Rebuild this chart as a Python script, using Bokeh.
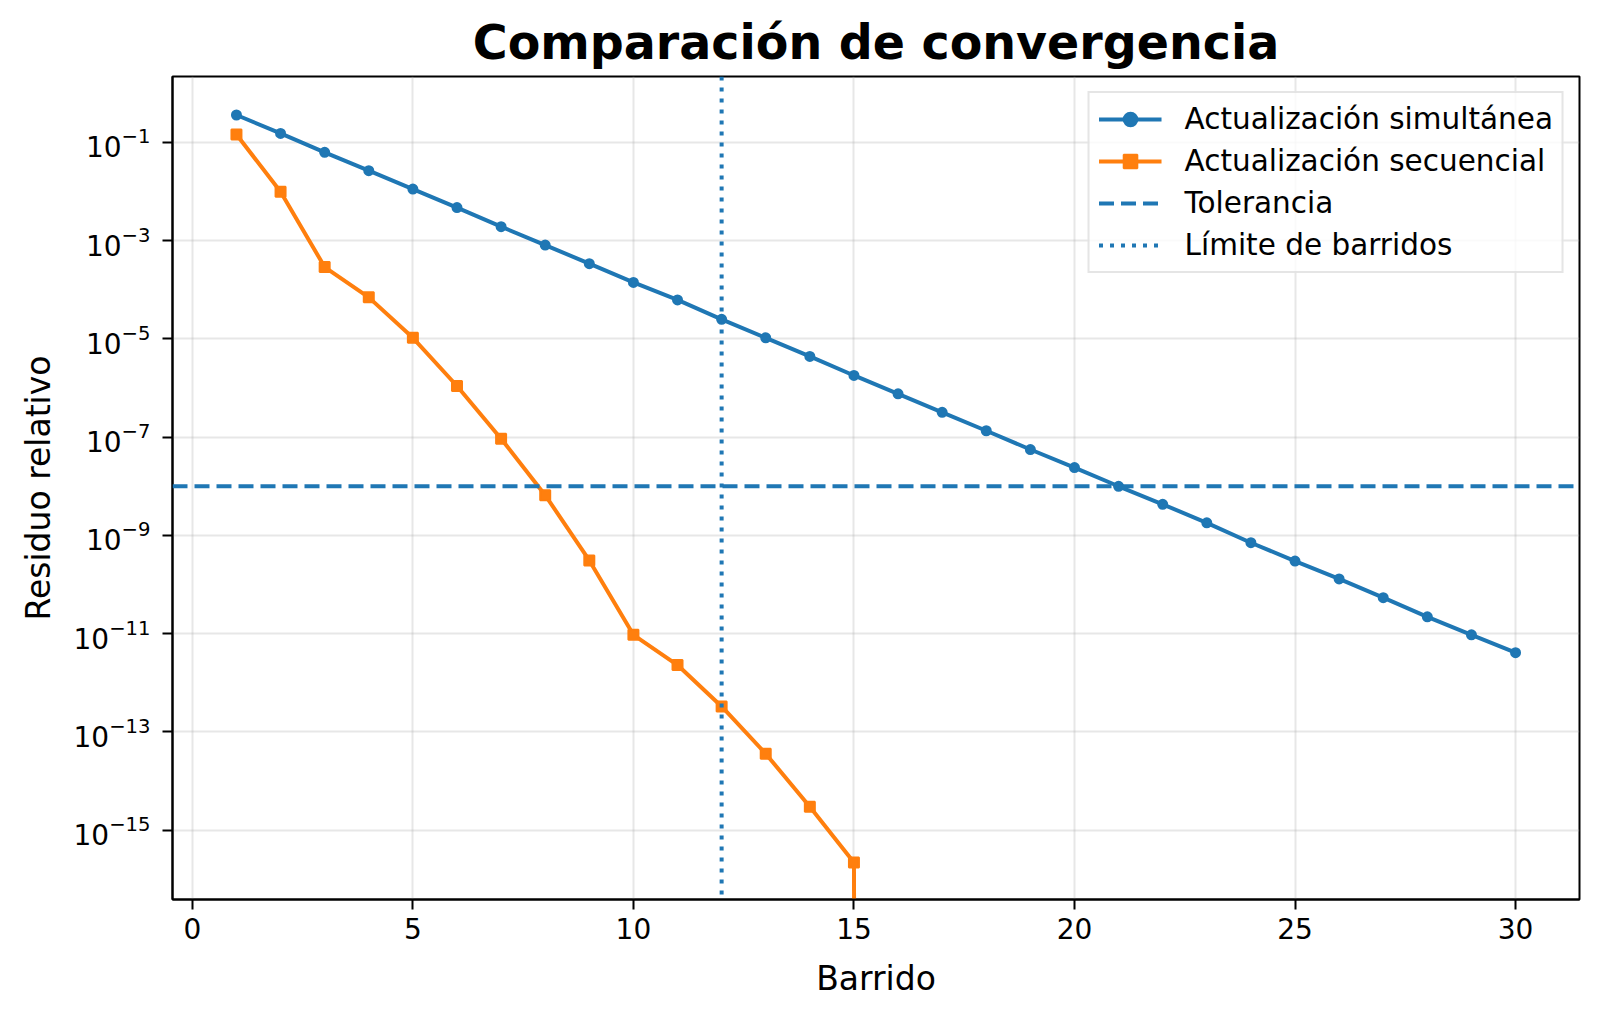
from bokeh.plotting import figure
from bokeh.models import (ColumnDataSource, FixedTicker, Legend, LegendItem,
                          Range1d, Span)
from bokeh.embed import file_html
from bokeh.resources import INLINE


# sweep number vs. relative residual
sweeps_sim = [1, 2, 3, 4, 5, 6, 7, 8, 9, 10, 11, 12, 13, 14, 15,
              16, 17, 18, 19, 20, 21, 22, 23, 24, 25, 26, 27, 28, 29, 30]
residual_sim = [0.36, 0.152, 0.0625, 0.0265, 0.0112, 4.7e-3, 1.92e-3, 8.1e-4,
                3.4e-4, 1.41e-4, 6.2e-5, 2.5e-5, 1.05e-5, 4.4e-6, 1.8e-6,
                7.6e-7, 3.2e-7, 1.35e-7, 5.6e-8, 2.4e-8, 1.0e-8, 4.3e-9,
                1.8e-9, 7.1e-10, 3.0e-10, 1.3e-10, 5.4e-11, 2.2e-11,
                9.5e-12, 4.1e-12]

sweeps_seq = [1, 2, 3, 4, 5, 6, 7, 8, 9, 10, 11, 12, 13, 14, 15, 16]
residual_seq = [0.144, 9.9e-3, 2.9e-4, 7.0e-5, 1.05e-5, 1.1e-6, 9.3e-8,
                6.6e-9, 3.1e-10, 9.5e-12, 2.3e-12, 3.3e-13, 3.6e-14, 3.0e-15,
                2.2e-16, 0.0]

tolerance = 1e-8
sweep_limit = 12

x_ticks = [0, 5, 10, 15, 20, 25, 30]
y_ticks = [1e-1, 1e-3, 1e-5, 1e-7, 1e-9, 1e-11, 1e-13, 1e-15]

FONT = "DejaVu Sans"
BLUE = "#1f77b4"
ORANGE = "#ff7f0e"
NAN = float("nan")


def convergence_plot():
    p = figure(width=1592, height=1009,
               x_range=Range1d(-0.45, 31.45),
               y_range=Range1d(10 ** -16.41, 10 ** 0.34),
               y_axis_type="log",
               title="Comparación de convergencia",
               x_axis_label="Barrido",
               y_axis_label="Residuo relativo",
               output_backend="svg",
               toolbar_location=None,
               min_border_left=172, min_border_right=13,
               min_border_top=76, min_border_bottom=110)

    p.title.text_font = FONT
    p.title.text_font_size = "47.5px"
    p.title.text_font_style = "bold"
    p.title.text_color = "black"
    p.title.align = "center"
    p.title.standoff = 14

    p.outline_line_color = "black"
    p.outline_line_width = 2

    xt = FixedTicker(ticks=x_ticks, minor_ticks=[])
    yt = FixedTicker(ticks=y_ticks, minor_ticks=[])
    p.xaxis.ticker = xt
    p.yaxis.ticker = yt
    p.xgrid.ticker = xt
    p.ygrid.ticker = yt

    for ax in (p.xaxis, p.yaxis):
        ax.axis_line_width = 2
        ax.major_tick_line_width = 2
        ax.major_tick_out = 10
        ax.major_tick_in = 0
        ax.minor_tick_line_color = None
        ax.major_label_text_font = FONT
        ax.major_label_text_font_size = "28px"
        ax.major_label_text_color = "black"
        ax.axis_label_text_font = FONT
        ax.axis_label_text_font_size = "33px"
        ax.axis_label_text_font_style = "normal"
        ax.axis_label_text_color = "black"
    p.xaxis.major_label_standoff = 8
    p.xaxis.axis_label_standoff = 17
    p.yaxis.major_label_standoff = 12
    p.yaxis.axis_label_standoff = 13

    for g in (p.xgrid, p.ygrid):
        g.grid_line_color = "#b0b0b0"
        g.grid_line_alpha = 0.3
        g.grid_line_width = 2

    src_sim = ColumnDataSource(dict(x=sweeps_sim, y=residual_sim))
    # matplotlib clips non-positive values on a log axis, do the same
    seq_y = [v if v > 0 else 1e-300 for v in residual_seq]
    src_seq = ColumnDataSource(dict(x=sweeps_seq, y=seq_y))

    sim_line = p.line("x", "y", source=src_sim, line_color=BLUE, line_width=4)
    sim_mark = p.scatter("x", "y", source=src_sim, marker="circle", size=9,
                         fill_color=BLUE, line_color=BLUE, line_width=2)
    seq_line = p.line("x", "y", source=src_seq, line_color=ORANGE, line_width=4)
    seq_mark = p.scatter("x", "y", source=src_seq, marker="square", size=10,
                         fill_color=ORANGE, line_color=ORANGE, line_width=2)

    p.add_layout(Span(location=tolerance, dimension="width", line_color=BLUE,
                      line_width=4, line_dash="15 7"))
    p.add_layout(Span(location=sweep_limit, dimension="height", line_color=BLUE,
                      line_width=4, line_dash="4 7"))

    # nan-only renderers so the spans get a legend entry
    tol_key = p.line([NAN], [NAN], line_color=BLUE, line_width=4, line_dash="15 7")
    lim_key = p.line([NAN], [NAN], line_color=BLUE, line_width=4, line_dash="4 7")

    legend = Legend(items=[
        LegendItem(label="Actualización simultánea", renderers=[sim_line, sim_mark]),
        LegendItem(label="Actualización secuencial", renderers=[seq_line, seq_mark]),
        LegendItem(label="Tolerancia", renderers=[tol_key]),
        LegendItem(label="Límite de barridos", renderers=[lim_key]),
    ])
    legend.location = "top_right"
    legend.margin = 15
    legend.padding = 9
    legend.spacing = 8
    legend.glyph_width = 63
    legend.glyph_height = 34
    legend.label_height = 34
    legend.label_standoff = 23
    legend.label_text_font = FONT
    legend.label_text_font_size = "29.5px"
    legend.label_text_color = "black"
    legend.border_line_color = "#cccccc"
    legend.border_line_width = 2
    legend.background_fill_alpha = 0.8
    p.add_layout(legend)
    return p


if __name__ == '__main__':
    plot = convergence_plot()
    open("out.html", "w").write(file_html(plot, INLINE, "Comparación de convergencia"))
